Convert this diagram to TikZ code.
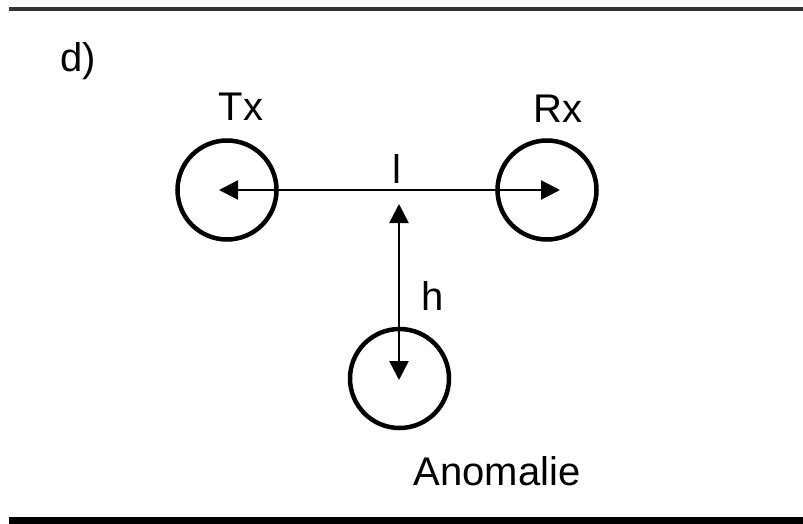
\documentclass[tikz,border=0pt]{standalone}
\usepackage{fontspec}
\setmainfont{Liberation Sans}
\usetikzlibrary{arrows.meta}
\begin{document}
\begin{tikzpicture}[x=1pt,y=-1pt,
  coil/.style={circle,draw,line width=4.5pt,minimum size=99pt,inner sep=0pt},
  dim/.style={line width=2.5pt,{Triangle[length=19pt,width=19pt]}-{Triangle[length=19pt,width=19pt]}},
  lbl/.style={font=\fontsize{40}{48}\selectfont,inner sep=0pt,anchor=base},
  rule/.style={line width=#1}]
\useasboundingbox (0,0) rectangle (803,524);
\coordinate (tl) at (9,9);
\coordinate (tr) at (803,9);
\coordinate (bl) at (9,520.5);
\coordinate (br) at (803,520.5);
\draw[rule=4.5pt,black!80] (tl) -- (tr);
\draw[rule=7pt,black] (bl) -- (br);
\node[coil] (tx) at (227,190) {};
\node[coil] (rx) at (547,190) {};
\node[coil] (an) at (399.5,378.5) {};
\coordinate (lt) at (219,190);
\coordinate (rt) at (560,190);
\coordinate (vt) at (399,204);
\coordinate (vb) at (399,380);
\draw[dim] (lt) -- (rt);
\draw[dim] (vt) -- (vb);
\node[lbl,anchor=base west] (d) at (60,72) {d)};
\node[lbl] (txl) at (241,121) {Tx};
\node[lbl] (rxl) at (558,123) {Rx};
\node[lbl] (ll) at (397,183) {l};
\node[lbl] (hl) at (433,310) {h};
\node[lbl] (anl) at (497,485) {Anomalie};
\end{tikzpicture}
\end{document}
